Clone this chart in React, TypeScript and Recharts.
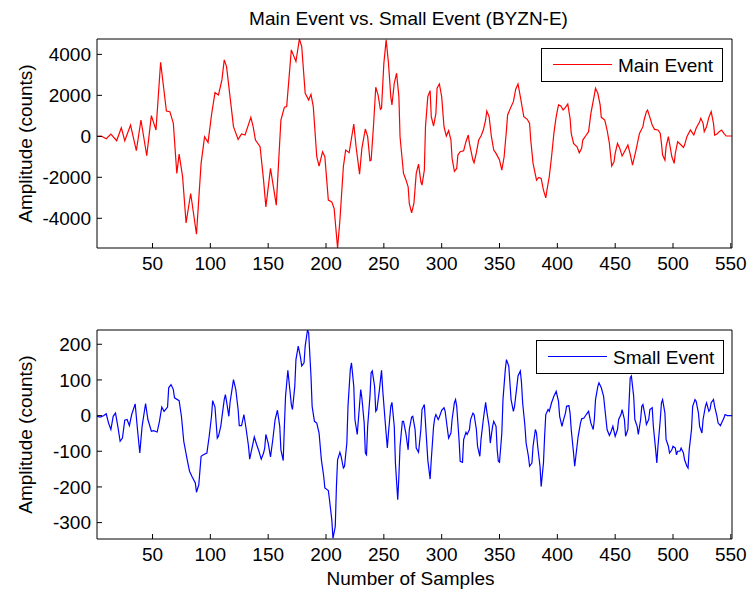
import React from 'react';
import { LineChart, Line, XAxis, YAxis, Legend } from 'recharts';

// Sample axis
const sampleTicks = [50, 100, 150, 200, 250, 300, 350, 400, 450, 500, 550];
const sampleRange: [number, number] = [2, 551];

// Main event (BYZN-E), counts
const mainTicks = [-4000, -2000, 0, 2000, 4000];
const mainRange: [number, number] = [-5450, 4750];
const mainSamples = [
  2, 6, 10, 14, 19, 23, 26, 31, 36, 40, 45, 49, 53, 57, 62, 65, 68, 71, 73, 76, 79, 83, 88, 92, 95, 98,
  101, 104, 107, 110, 112, 114, 117, 120, 124, 127, 130, 135, 137, 139, 143, 146, 148, 152, 157, 161,
  164, 166, 170, 174, 177, 179, 182, 185, 187, 189, 192, 194, 197, 199, 202, 205, 207, 210, 212, 215,
  217, 220, 224, 226, 229, 231, 234, 236, 238, 239, 241, 243, 245, 247, 248, 250, 252, 254, 256, 257,
  259, 261, 263, 264, 267, 269, 271, 272, 274, 276, 278, 280, 282, 283, 285, 286, 288, 290, 291, 293,
  295, 296, 298, 300, 302, 304, 306, 308, 309, 311, 313, 314, 316, 319, 321, 323, 324, 327, 328, 330,
  332, 334, 336, 338, 339, 341, 343, 345, 347, 350, 352, 354, 356, 357, 360, 362, 364, 366, 368, 370,
  371, 374, 376, 377, 379, 382, 384, 386, 388, 390, 391, 393, 395, 397, 399, 401, 403, 405, 407, 409,
  411, 412, 414, 417, 419, 421, 422, 425, 427, 429, 432, 433, 435, 437, 438, 441, 443, 445, 447, 449,
  450, 452, 454, 456, 458, 461, 463, 465, 468, 471, 474, 475, 477, 478, 480, 482, 484, 487, 489, 490,
  491, 493, 494, 496, 497, 499, 501, 502, 504, 507, 509, 510, 512, 515, 516, 518, 520, 523, 524, 526,
  527, 529, 531, 533, 535, 536, 538, 540, 542, 544, 546, 551,
];
const mainAmplitude = [
  0, 0, -116, 112, -214, 422, -214, 553, -703, 797, -947, 1009, 308, 3617, 1237, 1204, 634, -1811, -866, -1974, -4224, -2789, -4778, -1322, -18, -295,
  1042, 2134, 2020, 2753, 3731, 3405, 1938, 471, -148, 112, 64, 928, 471, -181, -507, -2137, -3441, -1566, -3359, 797,
  1417, 1449, 4220, 3649, 4750, 4383, 2101, 1775, 2052, 1449, -996, -1452, -752, -996, -3115, -3197, -3522, -5450, -4093, -1485,
  -670, -800, 601, -507, -1844, -588, 357, -18, -1192, -1159, 471, 2395, 2020, 1319, 1368, 3568, 4709, 3568, 1938, 1531,
  2590, 3079, 1938, -18, -1811, -2104, -2463, -3278, -3734, -3278, -1811, -1355, -2219, -2381, -1648, 471, 1938, 2231, 960, 504,
  1123, 2346, 2557, 1938, 471, 15, 275, -181, -1077, -1713, -1566, -914, -752, -703, -263, 64, -344, -1159, -1289, -800,
  -181, 15, 308, 797, 1237, 960, -18, -670, -833, -1159, -1648, -996, 308, 1042, 1449, 1693, 2297, 2557, 1938, 1286,
  960, 830, 634, -181, -1322, -2137, -2006, -2055, -2626, -3001, -2626, -1974, -996, 145, 960, 1531, 1482, 1286, 1417, 1579,
  879, 145, -344, -507, -800, -588, -181, 64, 226, 1123, 2020, 2346, 2101, 1531, 928, 797, 308, -344, -1452, -1241,
  -833, -344, -588, -963, -752, -425, -866, -1403, -670, 145, 471, 797, 1204, 1286, 928, 553, 341, 308, 145, -344,
  -914, -1159, -507, -18, -344, -996, -1322, -833, -263, -425, -539, -425, -18, 308, 226, 64, 390, 715, 879, 634,
  226, 471, 928, 1204, 634, 64, 112, 226, 308, 145, 15, 15,
];

// Small event, counts
const smallTicks = [-300, -200, -100, 0, 100, 200];
const smallRange: [number, number] = [-346, 240];
const smallSamples = [
  2, 5, 8, 10, 12, 14, 16, 18, 20, 22, 24, 26, 28, 30, 32, 35, 37, 39, 41, 44, 46, 49, 51, 54, 56, 58,
  60, 63, 64, 66, 68, 69, 73, 75, 77, 80, 82, 84, 87, 88, 90, 92, 94, 97, 99, 101, 102, 104, 106, 107,
  109, 112, 113, 114, 116, 117, 120, 122, 124, 125, 127, 129, 131, 133, 134, 136, 138, 140, 142, 144, 146, 147,
  148, 150, 152, 154, 156, 158, 160, 161, 163, 164, 165, 167, 169, 170, 171, 173, 174, 176, 178, 179, 181, 182,
  184, 185, 187, 188, 190, 192, 194, 196, 198, 199, 202, 203, 205, 206, 208, 209, 210, 212, 213, 215, 216, 218,
  219, 221, 222, 224, 225, 227, 228, 230, 231, 233, 234, 235, 236, 238, 239, 240, 242, 243, 244, 246, 248, 249,
  251, 253, 254, 256, 257, 259, 260, 262, 263, 264, 266, 267, 269, 271, 272, 274, 275, 277, 278, 280, 282, 283,
  285, 286, 288, 290, 291, 293, 294, 295, 297, 298, 300, 302, 303, 305, 306, 308, 309, 311, 312, 313, 315, 316,
  318, 319, 321, 322, 324, 325, 327, 328, 330, 331, 333, 334, 336, 338, 339, 341, 342, 344, 345, 347, 348, 349,
  350, 352, 353, 355, 356, 358, 359, 360, 362, 363, 365, 366, 368, 369, 370, 372, 373, 375, 376, 378, 379, 381,
  382, 383, 385, 386, 388, 389, 390, 392, 393, 395, 397, 399, 401, 402, 404, 405, 407, 408, 410, 411, 412, 414,
  415, 416, 418, 420, 421, 423, 425, 427, 429, 431, 432, 433, 435, 436, 438, 440, 441, 443, 445, 446, 448, 450,
  452, 453, 455, 456, 458, 459, 461, 462, 463, 464, 466, 467, 469, 470, 472, 473, 474, 476, 477, 479, 480, 482,
  483, 485, 486, 487, 489, 490, 491, 493, 494, 496, 497, 499, 500, 502, 503, 504, 506, 507, 509, 510, 512, 513,
  514, 516, 517, 519, 520, 522, 523, 525, 526, 528, 529, 531, 532, 533, 535, 536, 538, 539, 541, 542, 544, 545,
  547, 551,
];
const smallAmplitude = [
  -2, -4, 0, 5, -21, -39, -2, 7, -30, -72, -63, -13, -11, -28, 3, 33, -39, -105, -30, 34, -11, -44, -42, -46, -16, 24,
  12, 24, 78, 87, 73, 50, 42, -2, -72, -124, -156, -170, -189, -215, -194, -114, -110, -105, -58, -2, 42, 24, -63, -58,
  -30, 45, 59, 40, -2, 36, 101, 73, 17, -28, -28, 3, -39, -86, -122, -91, -60, -81, -100, -122, -105, -91,
  -53, -77, -116, -67, -11, 15, -30, -96, -126, -30, 54, 127, 64, 31, 17, 82, 157, 195, 162, 139, 148, 195,
  240, 232, 111, 26, -16, -21, -49, -124, -170, -203, -210, -236, -292, -344, -311, -199, -124, -103, -114, -147, -142, -77,
  26, 129, 148, 82, -11, -53, -11, 73, 50, -21, -105, -110, -30, 54, 120, 125, 82, 12, 17, 68, 127, 73,
  -11, -91, -49, 26, 37, -30, -133, -236, -170, -86, -16, -16, -49, -96, -39, -4, -2, -39, -91, -103, -39, 17,
  31, -21, -124, -178, -124, -30, -7, 3, -11, -4, 15, 22, 12, -39, -63, -49, -11, 36, 45, 26, -67, -128,
  -131, -67, -47, -53, -39, -11, 7, 3, -39, -86, -114, -67, -11, 37, 12, -30, -77, -30, -16, -30, -96, -128,
  -131, -49, 45, 129, 157, 139, 92, 45, 12, 26, 82, 111, 125, 92, 36, -30, -77, -114, -142, -133, -86, -39,
  -49, -86, -142, -199, -133, -58, 3, 17, 12, 36, 54, 68, 40, -2, -30, -16, 7, 26, 28, 7, -39, -105,
  -142, -114, -58, -21, -9, -7, 3, 12, -21, -39, -11, 45, 82, 92, 78, 54, 22, -39, -56, -49, -30, -58,
  -39, -11, 3, 17, -11, -58, -39, 36, 106, 111, 54, -11, -30, -53, -11, 26, 31, -2, -25, -11, 17, 22,
  -30, -96, -133, -86, -11, 36, 45, 7, -67, -86, -105, -96, -86, -91, -110, -100, -100, -91, -105, -124, -142, -147,
  -96, -39, 26, 45, 40, 7, -30, -49, -11, 26, 36, 12, 17, 36, 45, 26, -2, -21, -28, -21, -7, 3,
  0, 0,
];

const mainData = mainSamples.map((sample, i) => ({ sample, amplitude: mainAmplitude[i] }));
const smallData = smallSamples.map((sample, i) => ({ sample, amplitude: smallAmplitude[i] }));

const FONT = '"Liberation Sans", Arial, Helvetica, sans-serif';
const INK = '#000';
const FS = 19;

type LegendProps = { payload?: Array<{ value?: string; color?: string }>; width: number };

function LegendBox({ payload, width }: LegendProps) {
  const item = payload && payload[0];
  if (!item) return null;
  return (
    <svg width={width} height={35} style={{ display: 'block' }}>
      <rect x={0.5} y={0.5} width={width - 1} height={33} fill="#fff" stroke={INK} strokeWidth={1} />
      <line x1={12} x2={71} y1={16.5} y2={16.5} stroke={item.color} strokeWidth={1.2} />
      <text x={77} y={23.5} fontSize={FS} fill={INK} fontFamily={FONT}>
        {item.value}
      </text>
    </svg>
  );
}

function yTitle(props: any) {
  const vb = props.viewBox || { y: 0, height: 0 };
  const cx = 25;
  const cy = vb.y + vb.height / 2;
  return (
    <text
      x={cx}
      y={cy}
      transform={`rotate(-90 ${cx} ${cy})`}
      textAnchor="middle"
      dominantBaseline="central"
      fontSize={FS}
      fill={INK}
      fontFamily={FONT}
    >
      Amplitude (counts)
    </text>
  );
}

type PanelProps = {
  data: { sample: number; amplitude: number }[];
  name: string;
  color: string;
  yTicks: number[];
  yRange: [number, number];
  height: number;
  marginTop: number;
  bottomAxisHeight: number;
  legendLeft: number;
  legendTop: number;
  legendWidth: number;
  xTitle?: string;
};

function Panel(p: PanelProps) {
  const axisLine = { stroke: INK, strokeWidth: 1 };
  const tickStyle = { fontSize: FS, fill: INK, fontFamily: FONT };
  return (
    <LineChart
      width={749}
      height={p.height}
      data={p.data}
      margin={{ top: p.marginTop, right: 16, bottom: 0, left: 0 }}
    >
      <XAxis
        dataKey="sample"
        type="number"
        domain={sampleRange}
        ticks={sampleTicks}
        interval={0}
        allowDataOverflow
        height={p.bottomAxisHeight}
        tickSize={-5}
        tickMargin={14}
        axisLine={axisLine}
        tickLine={axisLine}
        tick={tickStyle}
        label={
          p.xTitle
            ? { value: p.xTitle, position: 'insideBottom', offset: 7, dx: -4, fontSize: FS, fill: INK, fontFamily: FONT }
            : undefined
        }
      />
      <XAxis
        xAxisId="top"
        orientation="top"
        dataKey="sample"
        type="number"
        domain={sampleRange}
        ticks={sampleTicks}
        interval={0}
        allowDataOverflow
        height={1}
        tickSize={-5}
        axisLine={axisLine}
        tickLine={axisLine}
        tick={false}
      />
      <YAxis
        type="number"
        domain={p.yRange}
        ticks={p.yTicks}
        interval={0}
        allowDataOverflow
        width={97}
        tickSize={-5}
        tickMargin={11}
        axisLine={axisLine}
        tickLine={axisLine}
        tick={tickStyle}
        label={{ content: yTitle }}
      />
      <YAxis
        yAxisId="right"
        orientation="right"
        type="number"
        domain={p.yRange}
        ticks={p.yTicks}
        interval={0}
        allowDataOverflow
        width={1}
        tickSize={-5}
        axisLine={axisLine}
        tickLine={axisLine}
        tick={false}
      />
      <Legend
        layout="horizontal"
        verticalAlign="middle"
        align="center"
        wrapperStyle={{ position: 'absolute', left: p.legendLeft, top: p.legendTop, width: p.legendWidth }}
        content={(props: any) => <LegendBox payload={props.payload} width={p.legendWidth} />}
      />
      <Line
        type="linear"
        dataKey="amplitude"
        name={p.name}
        stroke={p.color}
        strokeWidth={1.2}
        dot={false}
        activeDot={false}
        isAnimationActive={false}
      />
    </LineChart>
  );
}

export default function App() {
  return (
    <div
      style={{
        position: 'absolute',
        left: 0,
        top: 0,
        width: 749,
        height: 592,
        background: '#fff',
        fontFamily: FONT,
        overflow: 'hidden',
      }}
    >
      <div
        style={{
          position: 'absolute',
          left: 91,
          top: 8,
          width: 635,
          textAlign: 'center',
          fontSize: FS,
          lineHeight: '21px',
          color: INK,
          whiteSpace: 'nowrap',
        }}
      >
        Main Event vs. Small Event (BYZN-E)
      </div>
      <div style={{ position: 'absolute', left: 0, top: 0 }}>
        <Panel
          data={mainData}
          name="Main Event"
          color="#ff0000"
          yTicks={mainTicks}
          yRange={mainRange}
          height={292}
          marginTop={38}
          bottomAxisHeight={44}
          legendLeft={541}
          legendTop={48}
          legendWidth={182}
        />
      </div>
      <div style={{ position: 'absolute', left: 0, top: 292 }}>
        <Panel
          data={smallData}
          name="Small Event"
          color="#0000ff"
          yTicks={smallTicks}
          yRange={smallRange}
          height={300}
          marginTop={37}
          bottomAxisHeight={53}
          legendLeft={536}
          legendTop={48}
          legendWidth={188}
          xTitle="Number of Samples"
        />
      </div>
    </div>
  );
}
